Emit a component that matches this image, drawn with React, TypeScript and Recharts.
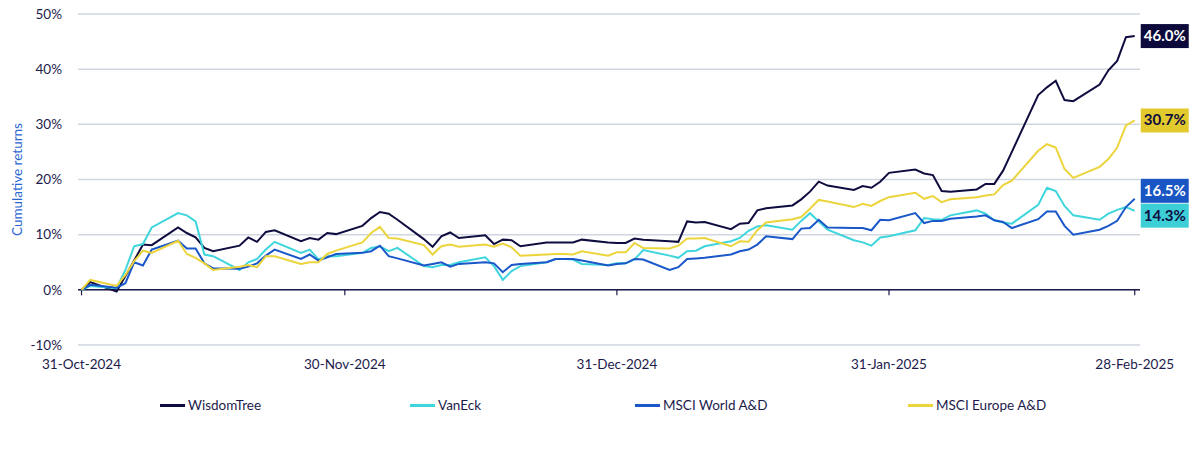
import { LineChart, Line, XAxis, YAxis, CartesianGrid, ReferenceLine, LabelList } from 'recharts'

// day offsets from 31-Oct-2024 (weekdays only)
const days = [
  0, 1, 4, 5, 6, 7, 8, 11, 12, 13, 14, 15, 18, 19, 20, 21, 22, 25, 26, 27, 28, 29,
  32, 33, 34, 35, 36, 39, 40, 41, 42, 43, 46, 47, 48, 49, 50, 53, 54, 55, 56, 57,
  60, 61, 62, 63, 64, 67, 68, 69, 70, 71, 74, 75, 76, 77, 78, 81, 82, 83, 84, 85,
  88, 89, 90, 91, 92, 95, 96, 97, 98, 99, 102, 103, 104, 105, 106, 109, 110, 111, 112, 113,
  116, 117, 118, 119, 120,
]

const wisdomTree = [
  0, 1.4, -0.3, 2.5, 5.3, 8.2, 8.1, 11.3, 10.3, 9.5, 7.6, 7.0, 8.0, 9.5, 8.7, 10.5, 10.8, 8.8, 9.4, 9.1, 10.3, 10.1,
  11.6, 13.0, 14.1, 13.8, 12.7, 9.2, 7.8, 9.7, 10.4, 9.4, 9.9, 8.3, 9.1, 9.0, 7.9, 8.6, 8.6, 8.6, 8.6, 9.1,
  8.6, 8.5, 8.5, 9.3, 9.1, 8.8, 8.7, 12.4, 12.2, 12.3, 11.0, 12.0, 12.1, 14.4, 14.8, 15.3, 16.4, 17.8, 19.6, 18.9,
  18.1, 18.8, 18.5, 19.6, 21.2, 21.8, 21.1, 20.8, 17.9, 17.8, 18.2, 19.2, 19.2, 21.6, 25.0, 35.3, 36.7, 37.9, 34.4, 34.2,
  37.2, 39.8, 41.5, 45.8, 46.0,
]

const vanEck = [
  0, 0.7, 0.3, 3.6, 7.9, 8.3, 11.3, 13.9, 13.5, 12.4, 6.4, 6.1, 3.6, 5.0, 5.6, 7.3, 8.7, 6.7, 7.3, 5.5, 6.1, 6.1,
  6.7, 7.6, 7.9, 7.0, 7.6, 4.3, 4.1, 4.5, 4.5, 5.0, 5.9, 4.3, 1.8, 3.4, 4.3, 5.0, 5.6, 5.6, 5.5, 4.7,
  4.5, 4.8, 4.8, 5.5, 7.2, 6.2, 5.8, 7.0, 7.1, 7.9, 8.8, 9.4, 10.7, 11.5, 11.7, 10.9, 12.5, 13.9, 12.4, 10.9,
  9.0, 8.6, 8.0, 9.5, 9.7, 10.8, 13.0, 12.8, 12.7, 13.5, 14.4, 13.8, 12.6, 12.2, 12.0, 15.4, 18.5, 17.9, 15.2, 13.5,
  12.7, 13.8, 14.5, 15.0, 14.3,
]

const msciWorld = [
  0, 0.9, 0.4, 1.2, 5.0, 4.4, 7.3, 8.9, 7.5, 7.5, 4.8, 3.9, 3.8, 4.2, 4.8, 6.2, 7.3, 5.6, 6.4, 5.3, 5.9, 6.5,
  6.7, 7.0, 8.0, 6.1, 5.7, 4.4, 4.7, 5.0, 4.2, 4.7, 5.0, 4.8, 3.2, 4.5, 4.7, 5.0, 5.6, 5.6, 5.6, 5.3,
  4.4, 4.7, 4.8, 5.6, 5.5, 3.6, 4.1, 5.6, 5.7, 5.8, 6.4, 7.0, 7.3, 8.2, 9.7, 9.2, 11.1, 11.2, 12.7, 11.3,
  11.2, 11.2, 10.8, 12.7, 12.6, 13.9, 12.1, 12.5, 12.5, 12.9, 13.3, 13.5, 12.6, 12.3, 11.2, 12.8, 14.2, 14.2, 11.6, 10.0,
  10.9, 11.6, 12.5, 15.0, 16.5,
]

const msciEurope = [
  0, 1.8, 0.7, 2.7, 5.2, 7.1, 6.7, 8.9, 6.5, 5.8, 4.8, 3.6, 4.2, 4.5, 4.1, 6.1, 6.1, 4.7, 5.0, 5.0, 6.5, 7.1,
  8.6, 10.3, 11.4, 9.4, 9.3, 8.1, 6.4, 7.9, 8.2, 7.8, 8.2, 7.8, 8.4, 7.7, 6.2, 6.4, 6.5, 6.5, 6.4, 7.0,
  6.2, 6.8, 6.8, 8.5, 7.6, 7.5, 8.0, 9.3, 9.3, 9.4, 7.9, 8.8, 8.7, 10.8, 12.2, 12.8, 13.2, 14.7, 16.3, 16.0,
  15.0, 15.6, 15.2, 16.1, 16.8, 17.6, 16.5, 17.0, 15.9, 16.4, 16.8, 17.1, 17.3, 19.0, 19.8, 25.2, 26.4, 25.8, 21.9, 20.3,
  22.3, 23.7, 25.8, 29.8, 30.7,
]

const tickDays = [0, 30, 61, 92, 120]
const tickLabels = ['31-Oct-2024', '30-Nov-2024', '31-Dec-2024', '31-Jan-2025', '28-Feb-2025']
const yTicks = [-10, 0, 10, 20, 30, 40, 50]

const NAVY = '#0f0c3f'
const TEXT = '#1c1b4c'

const series = [
  { key: 'wt', name: 'WisdomTree', color: NAVY, box: '#0c0a3a', boxText: '#ffffff', shift: 0 },
  { key: 've', name: 'VanEck', color: '#3fd5dc', box: '#3ccfd6', boxText: NAVY, shift: 4.7 },
  { key: 'mw', name: 'MSCI World A&D', color: '#1a57c9', box: '#1a55c4', boxText: '#ffffff', shift: -8 },
  { key: 'me', name: 'MSCI Europe A&D', color: '#ecd43c', box: '#e2c92c', boxText: NAVY, shift: 0 },
]

const legendLeft = [160, 410, 635, 908]

const data = days.map((d, i) => ({
  day: d,
  wt: wisdomTree[i],
  ve: vanEck[i],
  mw: msciWorld[i],
  me: msciEurope[i],
}))

const lastIndex = days.length - 1

function endLabel(box: string, boxText: string, shift: number) {
  return (props: any) => {
    const { x, y, value, index } = props
    if (index !== lastIndex) return null
    const cy = Number(y) + shift
    return (
      <g>
        <rect x={Number(x) + 6} y={cy - 12} width={48} height={24} fill={box} />
        <text
          x={Number(x) + 30}
          y={cy + 5}
          textAnchor="middle"
          fill={boxText}
          fontSize={15}
          fontWeight={700}
        >
          {Number(value).toFixed(1)}%
        </text>
      </g>
    )
  }
}

export default function App() {
  return (
    <div
      style={{
        position: 'absolute',
        left: 0,
        top: 0,
        width: 1200,
        height: 453,
        background: '#ffffff',
        fontFamily: 'Lato, "Noto Sans", sans-serif',
      }}
    >
      <LineChart width={1200} height={380} data={data} margin={{ top: 14, right: 60, bottom: 0, left: 0 }}>
        <CartesianGrid vertical={false} stroke="#cfd6e0" strokeWidth={1.5} />
        <XAxis
          dataKey="day"
          type="number"
          domain={[-0.4, 120.6]}
          ticks={tickDays}
          tickFormatter={(v) => tickLabels[tickDays.indexOf(v)] ?? ''}
          axisLine={false}
          tickLine={false}
          tickSize={0}
          tickMargin={14}
          height={35}
          tick={{ fill: TEXT, fontSize: 13.5 }}
          interval={0}
        />
        <YAxis
          domain={[-10, 50]}
          ticks={yTicks}
          tickFormatter={(v) => `${v}%`}
          axisLine={false}
          tickLine={false}
          tickSize={0}
          tickMargin={16}
          width={78}
          tick={{ fill: TEXT, fontSize: 13.5 }}
          label={{
            content: ({ viewBox }: any) => (
              <text
                x={17}
                y={viewBox.y + viewBox.height / 2}
                transform={`rotate(-90, 17, ${viewBox.y + viewBox.height / 2})`}
                textAnchor="middle"
                dominantBaseline="central"
                fill="#2a66d2"
                fontSize={13.5}
              >
                Cumulative returns
              </text>
            ),
          }}
        />
        <ReferenceLine y={0} stroke={TEXT} strokeWidth={1.5} />
        {tickDays.map((d) => (
          <ReferenceLine
            key={d}
            segment={[{ x: d, y: 0 }, { x: d, y: -1 }]}
            stroke={TEXT}
            strokeWidth={1.2}
          />
        ))}
        {series.map((s) => (
          <Line
            key={s.key}
            dataKey={s.key}
            name={s.name}
            type="linear"
            stroke={s.color}
            strokeWidth={2}
            dot={false}
            isAnimationActive={false}
          >
            <LabelList dataKey={s.key} content={endLabel(s.box, s.boxText, s.shift)} />
          </Line>
        ))}
      </LineChart>
      {series.map((s, i) => (
        <div
          key={s.key}
          style={{
            position: 'absolute',
            left: legendLeft[i],
            top: 396,
            display: 'flex',
            alignItems: 'center',
            fontSize: 13.5,
            color: TEXT,
            lineHeight: '18px',
          }}
        >
          <span style={{ display: 'inline-block', width: 25, height: 3, background: s.color, marginRight: 3 }} />
          {s.name}
        </div>
      ))}
    </div>
  )
}
